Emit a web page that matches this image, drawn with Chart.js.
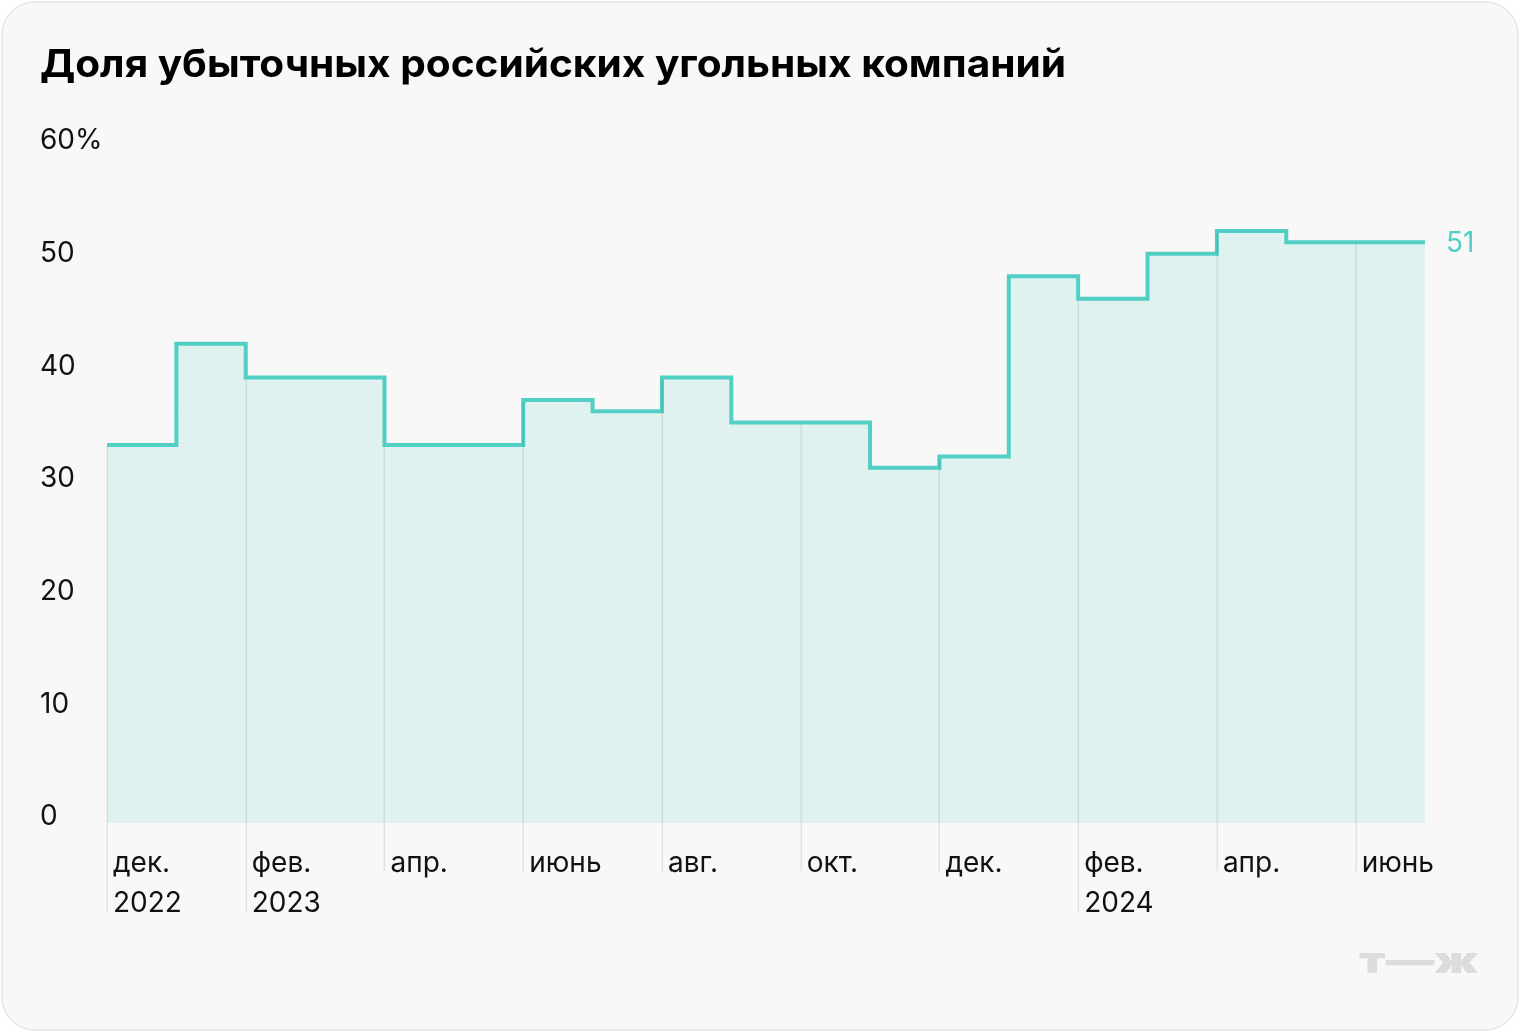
<!DOCTYPE html>
<html>
<head>
<meta charset="utf-8">
<script src="https://cdn.jsdelivr.net/npm/chart.js@4"></script>
<style>
  html, body { margin: 0; padding: 0; background: #ffffff; }
  #card { position: absolute; left: 1px; top: 1px; width: 1518px; height: 1030px; box-sizing: border-box;
          border: 2px solid #ebebeb; border-radius: 34px; background: #f8f8f8; }
  #c { position: absolute; left: 0; top: 0; }
</style>
</head>
<body>
<div id="card"></div>
<canvas id="c" width="1520" height="1032"></canvas>
<script>
// ---- data ----
const titleText = 'Доля убыточных российских угольных компаний';
const months = ['2022-12','2023-01','2023-02','2023-03','2023-04','2023-05','2023-06','2023-07','2023-08','2023-09','2023-10','2023-11','2023-12','2024-01','2024-02','2024-03','2024-04','2024-05','2024-06'];
const lossShare = [33, 42, 39, 39, 33, 33, 37, 36, 39, 35, 35, 31, 32, 48, 46, 50, 52, 51, 51];
const xTickIndex = [0, 2, 4, 6, 8, 10, 12, 14, 16, 18];
const xTickLabels = [['дек.', '2022'], ['фев.', '2023'], ['апр.'], ['июнь'], ['авг.'], ['окт.'], ['дек.'], ['фев.', '2024'], ['апр.'], ['июнь']];
const yTicks = [0, 10, 20, 30, 40, 50, 60];
const lastLabel = '51';

const TEAL = '#52cfc4';
const FONT = 'Inter, "Noto Sans", sans-serif';

const points = lossShare.map((v, i) => ({ x: i, y: v }));
points.push({ x: lossShare.length, y: lossShare[lossShare.length - 1] });

const decor = {
  id: 'decor',
  afterDatasetsDraw(chart) {
    const { ctx, scales: { x, y } } = chart;
    ctx.save();
    ctx.strokeStyle = 'rgba(0,0,0,0.09)';
    ctx.lineWidth = 1.5;
    xTickIndex.forEach((idx, k) => {
      const px = Math.round(x.getPixelForValue(idx)) + 0.25;
      const top = y.getPixelForValue(lossShare[idx]) + 2;
      const bottom = xTickLabels[k].length > 1 ? 911 : 871;
      ctx.beginPath();
      ctx.moveTo(px, top);
      ctx.lineTo(px, bottom);
      ctx.stroke();
    });
    ctx.restore();
  },
  afterDraw(chart) {
    const { ctx, scales: { x, y } } = chart;
    ctx.save();
    // title
    ctx.fillStyle = '#000';
    ctx.font = '700 38px ' + FONT;
    ctx.textBaseline = 'alphabetic';
    ctx.textAlign = 'left';
    ctx.save();
    ctx.translate(40, 77);
    ctx.scale(1.068, 1);
    ctx.fillText(titleText, 0, 0);
    ctx.restore();
    // last value label
    ctx.fillStyle = TEAL;
    ctx.font = '400 28px ' + FONT;
    ctx.textBaseline = 'middle';
    ctx.fillText(lastLabel, x.getPixelForValue(lossShare.length) + 21, y.getPixelForValue(lossShare[lossShare.length - 1]) + 1);
    // watermark
    ctx.fillStyle = '#dcdcdc';
    ctx.font = '900 36px ' + FONT;
    ctx.textBaseline = 'alphabetic';
    ctx.translate(1359, 973);
    ctx.scale(1.35, 1);
    ctx.fillText('т—ж', 0, 0);
    ctx.restore();
  }
};

new Chart(document.getElementById('c'), {
  type: 'line',
  data: {
    datasets: [{
      data: points,
      stepped: true,
      fill: 'start',
      backgroundColor: '#e0f2ef',
      borderColor: TEAL,
      borderWidth: 4,
      borderJoinStyle: 'miter',
      borderCapStyle: 'butt',
      pointRadius: 0,
      pointHoverRadius: 0,
      tension: 0
    }]
  },
  options: {
    responsive: false,
    devicePixelRatio: 1,
    animation: false,
    events: [],
    layout: { padding: { left: 40, right: 95, top: 141, bottom: 109 } },
    plugins: { legend: { display: false }, tooltip: { enabled: false }, title: { display: false } },
    scales: {
      x: {
        type: 'linear',
        min: 0,
        max: lossShare.length,
        grid: { display: false },
        border: { display: false },
        afterBuildTicks: (s) => { s.ticks = xTickIndex.map(v => ({ value: v })); },
        afterFit: (s) => { s.height = 100; },
        ticks: {
          autoSkip: false,
          maxRotation: 0,
          minRotation: 0,
          align: 'start',
          labelOffset: 6,
          padding: 13,
          color: '#111',
          font: { family: FONT, size: 28, lineHeight: 1.43 },
          callback: (v) => { const k = xTickIndex.indexOf(v); return k >= 0 ? xTickLabels[k] : ''; }
        }
      },
      y: {
        min: -0.55,
        max: 60,
        grid: { display: false },
        border: { display: false },
        afterBuildTicks: (s) => { s.ticks = yTicks.map(v => ({ value: v })); },
        afterFit: (s) => { s.width = 67; },
        ticks: {
          crossAlign: 'far',
          padding: 0,
          color: '#111',
          font: { family: FONT, size: 28 },
          callback: (v) => v === 60 ? v + '%' : String(v)
        }
      }
    }
  },
  plugins: [decor]
});
</script>
</body>
</html>
